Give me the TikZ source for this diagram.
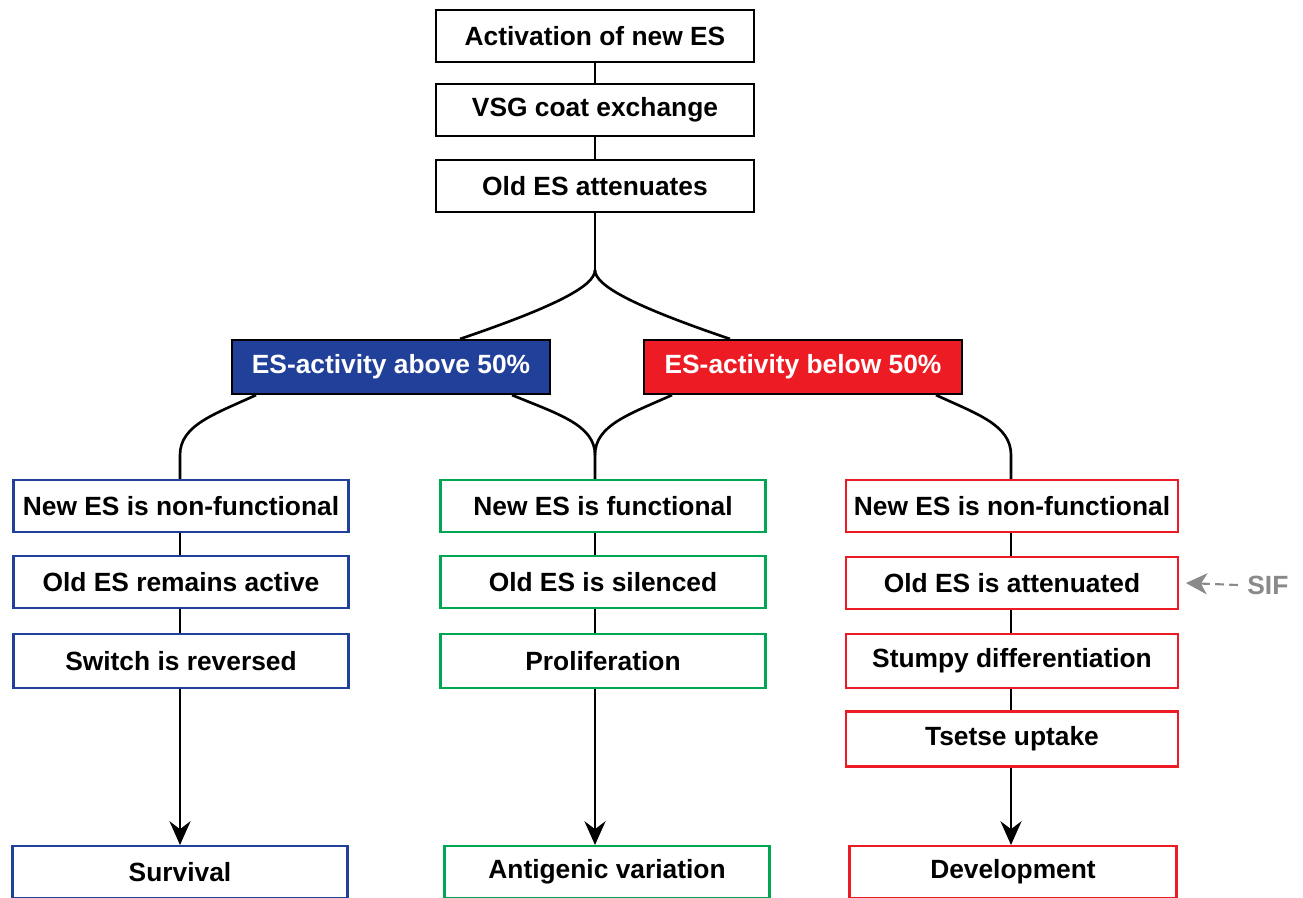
\documentclass[tikz,border=0pt]{standalone}
\usepackage{fontspec}
\setmainfont{Liberation Sans}
\usetikzlibrary{positioning}
\usetikzlibrary{arrows.meta}

\definecolor{esblue}{RGB}{33,64,154}
\definecolor{esred}{RGB}{237,28,36}
\definecolor{esgreen}{RGB}{0,166,81}
\definecolor{sifgray}{RGB}{138,138,138}

\tikzset{
  box/.style={draw, line width=1.2pt, inner sep=0pt, minimum height=1.04cm,
    font=\fontsize{15}{18}\selectfont\bfseries},
  topbox/.style={box, minimum width=6.36cm},
  hdrbox/.style={box, minimum width=6.36cm, minimum height=1.08cm, text=white},
  bluebox/.style={box, draw=esblue, minimum width=6.7cm},
  greenbox/.style={box, draw=esgreen, minimum width=6.5cm},
  redbox/.style={box, draw=esred, minimum width=6.64cm},
  link/.style={line width=1.5pt},
  arr/.style={link, -{Stealth[length=13.5pt, width=12pt, inset=4.5pt]}}
}

\begin{document}
\begin{tikzpicture}[x=0.02cm, y=-0.02cm]
    % frame of the figure
    \path[use as bounding box, clip] (0,0) rectangle (1303,897);

    % common trunk
    \node[topbox] (act) at (595,36) {Activation of new ES};
    \node[topbox] (vsg) at (595,110) {VSG coat exchange};
    \node[topbox] (old) at (595,186) {Old ES attenuates};

    % activity level
    \node[hdrbox, fill=esblue] (above) at (391,367) {ES-activity above 50\%};
    \node[hdrbox, fill=esred] (below) at (803,367) {ES-activity below 50\%};

    % left column
    \node[bluebox] (blueA) at (181,506) {New ES is non-functional};
    \node[bluebox] (blueB) at (181,582) {Old ES remains active};
    \node[bluebox, minimum height=1.08cm] (blueC) at (181,661) {Switch is reversed};
    \node[bluebox] (survival) at (180,872) {Survival};

    % middle column
    \node[greenbox] (greenA) at (603,506) {New ES is functional};
    \node[greenbox] (greenB) at (603,582) {Old ES is silenced};
    \node[greenbox, minimum height=1.08cm] (greenC) at (603,661) {Proliferation};
    \node[greenbox] (antigenic) at (607,872) {Antigenic variation};

    % right column
    \node[redbox] (redA) at (1012,506) {New ES is non-functional};
    \node[redbox] (redB) at (1012,583) {Old ES is attenuated};
    \node[redbox, minimum height=1.08cm] (redC) at (1012,661) {Stumpy differentiation};
    \node[redbox, minimum height=1.1cm] (redD) at (1012,739) {Tsetse uptake};
    \node[redbox, minimum width=6.54cm] (develop) at (1013,872) {Development};

    % SIF
    \node[font=\fontsize{15}{18}\selectfont\bfseries, text=sifgray, anchor=west, inner sep=0pt] (sif) at (1247,585) {SIF};

    % trunk links
    \draw[link] (act) -- (vsg);
    \draw[link] (vsg) -- (old);
    \coordinate (split) at (595,270);
    \draw[link] (old.south) -- (split);
    \draw[link] (split) .. controls (595,285) and (560,305) .. (above.north -| 460,0);
    \draw[link] (split) .. controls (595,285) and (630,305) .. (below.north -| 730,0);

    % branches below the activity boxes
    \draw[link] (above.south -| 256,0) .. controls (215,414) and (180,425) .. (180,455) -- (blueA.north -| 180,0);
    \draw[link] (above.south -| 512,0) .. controls (558,414) and (595,425) .. (595,455) -- (greenA.north -| 595,0);
    \draw[link] (below.south -| 672,0) .. controls (630,414) and (595,425) .. (595,455);
    \draw[link] (below.south -| 936,0) .. controls (977,414) and (1011,425) .. (1011,455) -- (redA.north -| 1011,0);

    % within the columns
    \draw[link] (blueA.south -| 180,0) -- (blueB.north -| 180,0);
    \draw[link] (blueB.south -| 180,0) -- (blueC.north -| 180,0);
    \draw[link] (greenA.south -| 595,0) -- (greenB.north -| 595,0);
    \draw[link] (greenB.south -| 595,0) -- (greenC.north -| 595,0);
    \draw[link] (redA.south -| 1011,0) -- (redB.north -| 1011,0);
    \draw[link] (redB.south -| 1011,0) -- (redC.north -| 1011,0);
    \draw[link] (redC.south -| 1011,0) -- (redD.north -| 1011,0);

    % outcomes
    \draw[arr] (blueC.south -| 180,0) -- (survival.north -| 180,0);
    \draw[arr] (greenC.south -| 595,0) -- (antigenic.north -| 595,0);
    \draw[arr] (redD.south -| 1011,0) -- (develop.north -| 1011,0);
    \draw[line width=1.2pt, sifgray, dash pattern=on 5pt off 3pt,
      -{Stealth[length=12pt, width=12pt, inset=3.5pt]}] ([xshift=-0.18cm]sif.west) -- (redB.east -| 1186,0);
\end{tikzpicture}
\end{document}
